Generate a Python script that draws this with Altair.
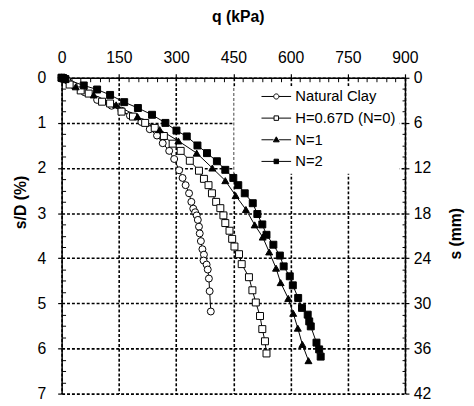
import altair as alt
import pandas as pd

# ---------------- data ----------------
series_names = ["Natural Clay", "H=0.67D (N=0)", "N=1", "N=2"]
marker_shapes = ["circle", "square", "triangle-up", "square"]
marker_fills = ["white", "white", "black", "black"]
marker_strokes = ["black", "black", "black", "black"]
# legend symbols: line - marker - line (custom SVG paths in symbol units)
legend_shapes = [
    "M-4.3,0H-0.75M0.75,0H4.3M0.75,0A0.75,0.75,0,1,1,-0.75,0A0.75,0.75,0,1,1,0.75,0Z",
    "M-4.3,0H-0.65M0.65,0H4.3M-0.65,-0.65H0.65V0.65H-0.65Z",
    "M-4.3,0H-0.8M0.8,0H4.3M0,-0.85L0.85,0.6L-0.85,0.6Z",
    "M-4.3,0H-0.65M0.65,0H4.3M-0.65,-0.65H0.65V0.65H-0.65Z",
]

clay_q = [0, 5, 15, 32, 60, 93, 131, 157, 179, 209, 231, 250, 265, 282, 295, 308, 317, 325, 334, 340,
          345, 350, 354, 357, 360, 362, 365, 369, 373, 372, 380, 383, 386, 388, 391]
clay_s = [0, 0.02, 0.06, 0.17, 0.32, 0.49, 0.62, 0.73, 0.84, 0.98, 1.14, 1.28, 1.45, 1.62, 1.80, 2.05, 2.22, 2.38, 2.56, 2.75,
          2.90, 2.98, 3.05, 3.15, 3.30, 3.45, 3.62, 3.80, 3.92, 4.05, 4.14, 4.25, 4.45, 4.73, 5.18]

h_q = [0, 4, 8, 21, 50, 71, 106, 127, 157, 187, 219, 244, 268, 291, 312, 336, 360, 373, 385, 394,
       405, 416, 424, 429, 440, 447, 453, 465, 472, 491, 500, 509, 520, 526, 533, 537]
h_s = [0, 0.01, 0.03, 0.15, 0.28, 0.35, 0.53, 0.57, 0.75, 0.86, 1.0, 1.11, 1.29, 1.46, 1.62, 1.84, 2.06, 2.24, 2.38, 2.56,
       2.75, 2.89, 3.05, 3.22, 3.39, 3.57, 3.74, 3.91, 4.13, 4.42, 4.71, 4.98, 5.28, 5.57, 5.84, 6.11]

n1_q = [0, 4, 10, 37, 84, 143, 199, 257, 306, 354, 395, 429, 456, 483, 506, 527, 544, 562, 574, 594,
        607, 619, 631, 647]
n1_s = [0, 0.01, 0.03, 0.20, 0.38, 0.60, 0.86, 1.15, 1.40, 1.67, 2.0, 2.28, 2.61, 2.92, 3.26, 3.53, 3.86, 4.22, 4.54, 4.89,
        5.22, 5.55, 5.91, 6.27]

n2_q = [0, 4, 10, 58, 93, 127, 164, 200, 237, 272, 301, 328, 356, 381, 407, 429, 450, 463, 480, 501,
        513, 526, 537, 555, 572, 582, 598, 606, 620, 630, 645, 649, 653, 668, 675, 679]
n2_s = [0, 0.01, 0.03, 0.17, 0.26, 0.38, 0.54, 0.67, 0.82, 1.0, 1.17, 1.30, 1.50, 1.67, 1.85, 2.04, 2.22, 2.38, 2.56, 2.78,
        3.02, 3.25, 3.48, 3.70, 3.94, 4.18, 4.40, 4.60, 4.88, 5.10, 5.25, 5.40, 5.51, 5.87, 6.02, 6.18]

q_major = [0, 150, 300, 450, 600, 750, 900]
q_minor = [v for v in range(0, 901, 25) if v % 150]
sd_major = [0, 1, 2, 3, 4, 5, 6, 7]
sd_minor = [i * 0.25 for i in range(29) if i % 4]
mm_per_pct = 6  # D = 600 mm -> 1 % = 6 mm

rows = []
for name, qs, ss in zip(series_names, [clay_q, h_q, n1_q, n2_q], [clay_s, h_s, n1_s, n2_s]):
    for i, (q, s) in enumerate(zip(qs, ss)):
        rows.append({"series": name, "q": q, "s": s, "idx": i})
df = pd.DataFrame(rows)

W, H = 349, 321
FONT = "Liberation Sans"

xs = alt.Scale(domain=[0, 900], nice=False, zero=False)
ys = alt.Scale(domain=[0, 7], reverse=True, nice=False, zero=False)

base = alt.Chart(df)

common_axis = dict(labelFont=FONT, labelFontSize=16, labelColor="black",
                   titleFont=FONT, titleFontSize=16, titleFontWeight="bold", titleColor="black",
                   tickColor="black", domainColor="black", labelFlush=False, labelOverlap=False)

x_main = alt.Axis(orient="top", values=q_major, title="q (kPa)", format="d",
                  grid=True, gridColor="black", gridDash=[3, 2], gridWidth=1.6, gridOpacity=1,
                  domainWidth=1.5, tickSize=4, tickWidth=1.2, labelPadding=8.6,
                  titleX=179, titleY=-62.3, titleAlign="center", titleBaseline="middle",
                  **common_axis)
y_main = alt.Axis(orient="left", values=sd_major, title="s/D (%)", format="d",
                  grid=True, gridColor="black", gridDash=[3, 2], gridWidth=1.6, gridOpacity=1,
                  domainWidth=1.5, tickSize=4, tickWidth=1.2, labelPadding=12,
                  titleAngle=270, titleX=-42, titleY=126.3, titleAlign="center", titleBaseline="middle",
                  **common_axis)

lines = base.mark_line(color="black", strokeWidth=1).encode(
    x=alt.X("q:Q", scale=xs, axis=x_main),
    y=alt.Y("s:Q", scale=ys, axis=y_main),
    detail="series:N",
    order="idx:Q",
)

points = base.mark_point(size=50, stroke="black", strokeWidth=1, opacity=1).encode(
    x=alt.X("q:Q", scale=xs, axis=None),
    y=alt.Y("s:Q", scale=ys, axis=None),
    shape=alt.Shape("series:N", scale=alt.Scale(domain=series_names, range=marker_shapes), legend=None),
    fill=alt.Fill("series:N", scale=alt.Scale(domain=series_names, range=marker_fills), legend=None),
)

legend = alt.Legend(orient="none", legendX=175.5, legendY=8.5, title=None,
                    labelFont=FONT, labelFontSize=15, labelColor="black",
                    symbolSize=49, symbolOffset=32.2, labelOffset=11.8, rowPadding=6.0, padding=3,
                    fillColor="white", strokeColor="white",
                    symbolStrokeColor="black", symbolStrokeWidth=1)

# legend-only layer (no rows survive the filter; the legend comes from its scales)
legend_layer = base.transform_filter("datum.q < 0").mark_point(
    size=49, strokeWidth=1, opacity=1
).encode(
    x=alt.X("q:Q", scale=xs, axis=None),
    y=alt.Y("s:Q", scale=ys, axis=None),
    shape=alt.Shape("series:N", scale=alt.Scale(domain=series_names, range=legend_shapes), legend=legend),
    fill=alt.Fill("series:N", scale=alt.Scale(domain=series_names, range=marker_fills), legend=legend),
    stroke=alt.Stroke("series:N", scale=alt.Scale(domain=series_names, range=marker_strokes), legend=legend),
)

minor_common = dict(labels=False, grid=False, domain=False, title=None, tickColor="black", tickWidth=1)

x_minor_layer = base.mark_point(opacity=0).encode(
    x=alt.X("q:Q", scale=xs, axis=alt.Axis(orient="top", values=q_minor, tickSize={"expr": "-4"}, **minor_common)),
    y=alt.Y("s:Q", scale=ys, axis=alt.Axis(orient="right", values=sd_major, title="s (mm)",
                                           labelExpr=f"datum.value * {mm_per_pct}",
                                           grid=False, domainWidth=1.5, tickSize=4, tickWidth=1.2,
                                           labelPadding=4.5, titleAngle=270, titleX=51.5, titleY=158,
                                           titleAlign="center", titleBaseline="middle", **common_axis)),
)

y_minor_layer = base.mark_point(opacity=0).encode(
    x=alt.X("q:Q", scale=xs, axis=None),
    y=alt.Y("s:Q", scale=ys, axis=alt.Axis(orient="left", values=sd_minor, tickSize={"expr": "-4"}, **minor_common)),
)

r_minor_layer = base.mark_point(opacity=0).encode(
    x=alt.X("q:Q", scale=xs, axis=None),
    y=alt.Y("s:Q", scale=ys, axis=alt.Axis(orient="right", values=sd_minor, tickSize={"expr": "-3"}, **minor_common)),
)

chart = alt.layer(lines, points, legend_layer, x_minor_layer, y_minor_layer, r_minor_layer).resolve_axis(
    x="independent", y="independent"
).resolve_scale(
    shape="independent", fill="independent", stroke="independent"
).properties(
    width=W, height=H,
    autosize=alt.AutoSizeParams(type="none"),
    padding={"left": 54.5, "top": 67.7, "right": 62, "bottom": 6},
    background="white",
).configure_view(stroke=None)

chart.save("out.html", embed_options={"renderer": "svg", "actions": False})
